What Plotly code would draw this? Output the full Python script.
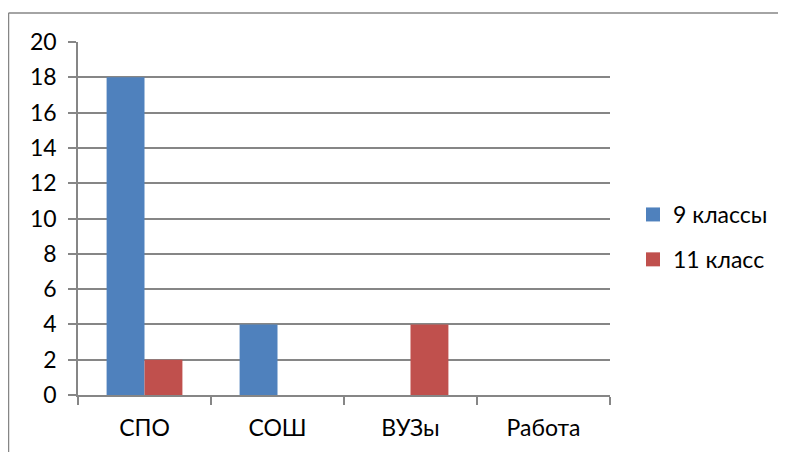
import plotly.graph_objects as go

categories = ["СПО", "СОШ", "ВУЗы", "Работа"]
series_names = ["9 классы", "11 класс"]
values_9 = [18, 4, 0, 0]
values_11 = [2, 0, 4, 0]
y_ticks = [0, 2, 4, 6, 8, 10, 12, 14, 16, 18, 20]
colors = ["#4F81BD", "#C0504D"]

W, H = 786, 452
OFF = 8  # page body margin
ml, mt = 78 - OFF, 42 - OFF
mr = W - (610 - OFF)
mb = H - (395 - OFF)
pw, ph = W - ml - mr, H - mt - mb
FONT = "Lato"
FS = 23
GRAY = "#868686"

fig = go.Figure()
for name, vals, col, grp in [(series_names[0], values_9, colors[0], "a"),
                             (series_names[1], values_11, colors[1], "b")]:
    fig.add_trace(go.Bar(x=categories, y=vals, name=name, showlegend=False,
                         marker=dict(color=col, line=dict(width=0))))
    fig.add_trace(go.Scatter(x=[None], y=[None], name=name, mode="markers",
                             legendgroup=grp,
                             marker=dict(symbol="square", size=14, color=col)))

def px_x(p):
    return (p - OFF - ml) / pw

def px_y(p):
    return (H - mb - (p - OFF)) / ph

fig.update_layout(
    width=W, height=H,
    margin=dict(l=ml, r=mr, t=mt, b=mb, autoexpand=False),
    paper_bgcolor="white", plot_bgcolor="white",
    barmode="group", bargap=0.43, bargroupgap=0,
    font=dict(family=FONT, size=FS, color="#000000"),
    showlegend=True,
    legend=dict(x=px_x(633), y=px_y(193), xanchor="left", yanchor="top",
                font=dict(family=FONT, size=FS), tracegroupgap=12,
                itemwidth=30, bgcolor="rgba(0,0,0,0)"),
    xaxis=dict(showline=True, linecolor=GRAY, linewidth=1.5,
               ticks="outside", ticklen=8, tickcolor=GRAY, tickwidth=1.5,
               tickson="boundaries", showgrid=False, fixedrange=True,
               ticklabelstandoff=12,
               tickfont=dict(family=FONT, size=FS)),
    yaxis=dict(range=[0, 20], tickvals=y_ticks, showline=True, linecolor=GRAY,
               linewidth=1.5, ticks="outside", ticklen=8, tickcolor=GRAY,
               tickwidth=1.5, showgrid=True, gridcolor=GRAY, gridwidth=1.5,
               zeroline=False, ticklabelstandoff=7,
               tickfont=dict(family=FONT, size=FS)),
    shapes=[
        dict(type="line", xref="paper", yref="paper",
             x0=px_x(8.5), x1=px_x(W + OFF), y0=px_y(13), y1=px_y(13),
             line=dict(color=GRAY, width=1.5)),
        dict(type="line", xref="paper", yref="paper",
             x0=px_x(8.5), x1=px_x(8.5), y0=px_y(13), y1=px_y(H + OFF),
             line=dict(color=GRAY, width=1.5)),
    ],
)

fig.write_html("out.html")
